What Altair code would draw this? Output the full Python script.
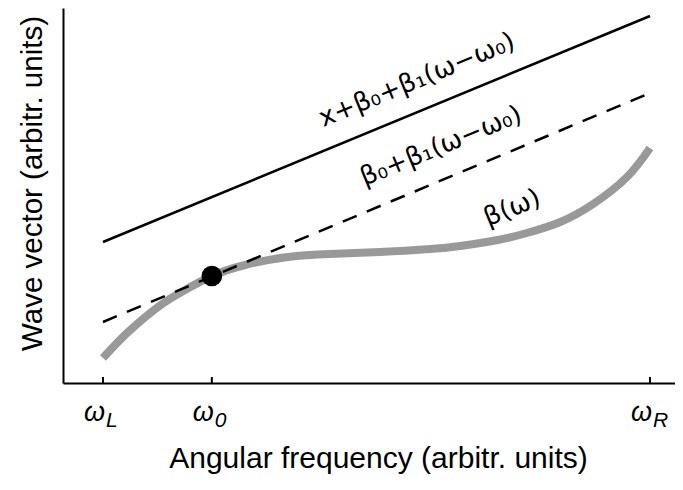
import altair as alt
import pandas as pd

# beta(omega) curve
omega_b = [0.0, 0.046, 0.108, 0.150, 0.199, 0.260, 0.338, 0.415, 0.506, 0.598,
           0.653, 0.722, 0.775, 0.836, 0.896, 0.958, 1.0]
beta_b = [0.25, 0.51, 0.79, 0.93, 1.07, 1.18, 1.26, 1.29, 1.31, 1.34,
          1.37, 1.43, 1.50, 1.61, 1.79, 2.06, 2.35]

# tangent line beta0 + beta1 (omega - omega0) and shifted line
omega_lines = [0.0, 1.0]
tangent = [0.61, 2.90]
shifted = [1.41, 3.67]

omega0 = 0.199
beta0 = 1.07

tick_vals = [0.0, 0.199, 1.0]
tick_subs = ["L", "0", "R"]

lbl_omega = [0.574, 0.618, 0.748]
lbl_y = [3.03, 2.37, 1.75]
lbl_text = ["x+β₀+β₁(ω−ω₀)", "β₀+β₁(ω−ω₀)", "β(ω)"]

W, H = 612, 375
xs = alt.Scale(domain=[-0.0731, 1.0457], nice=False, zero=False)
ys = alt.Scale(domain=[0, 3.75], nice=False, zero=False)

curve_df = pd.DataFrame({"w": omega_b, "b": beta_b})
lines_df = pd.DataFrame({"w": omega_lines, "t": tangent, "s": shifted})
dot_df = pd.DataFrame({"w": [omega0], "b": [beta0]})
ticks_df = pd.DataFrame({"w": tick_vals, "sub": tick_subs, "om": ["ω"] * 3})
lbl_df = pd.DataFrame({"w": lbl_omega, "y": lbl_y, "t": lbl_text})

xaxis = alt.Axis(ticks=False, labels=False, grid=False, domainColor="black",
                 domainWidth=2, title="Angular frequency (arbitr. units)",
                 titleFont="Liberation Sans", titleFontSize=30,
                 titleFontWeight="normal", titleColor="black",
                 titleX=315, titleY=84, titleBaseline="alphabetic",
                 titleAlign="center")
yaxis = alt.Axis(ticks=False, labels=False, grid=False, domainColor="black",
                 domainWidth=2, title="Wave vector (arbitr. units)",
                 titleFont="Liberation Sans", titleFontSize=29.5,
                 titleFontWeight="normal", titleColor="black",
                 titleAngle=270, titleX=-22, titleY=175,
                 titleBaseline="alphabetic", titleAlign="center")

curve = alt.Chart(curve_df).mark_line(
    color="#999999", strokeWidth=8, interpolate="natural", strokeCap="butt"
).encode(x=alt.X("w:Q", scale=xs, axis=xaxis), y=alt.Y("b:Q", scale=ys, axis=yaxis))

dashed = alt.Chart(lines_df).mark_line(
    color="black", strokeWidth=2.5, strokeDash=[15, 11]
).encode(x=alt.X("w:Q", scale=xs), y=alt.Y("t:Q", scale=ys))

solid = alt.Chart(lines_df).mark_line(color="black", strokeWidth=2.5).encode(
    x=alt.X("w:Q", scale=xs), y=alt.Y("s:Q", scale=ys))

dot = alt.Chart(dot_df).mark_circle(color="black", size=430, opacity=1).encode(
    x=alt.X("w:Q", scale=xs), y=alt.Y("b:Q", scale=ys))

tick_rules = alt.Chart(ticks_df).mark_rule(color="black", strokeWidth=2).encode(
    x=alt.X("w:Q", scale=xs), y=alt.value(H - 6), y2=alt.value(H))

tick_om = alt.Chart(ticks_df).mark_text(
    font="Liberation Sans", fontStyle="italic", fontSize=27, align="right",
    baseline="alphabetic", dx=2, color="black"
).encode(x=alt.X("w:Q", scale=xs), y=alt.value(413), text="om:N")

tick_sub = alt.Chart(ticks_df).mark_text(
    font="Liberation Sans", fontStyle="italic", fontSize=21, align="left",
    baseline="alphabetic", dx=3, color="black"
).encode(x=alt.X("w:Q", scale=xs), y=alt.value(419), text="sub:N")

labels = alt.Chart(lbl_df).mark_text(
    font="DejaVu Sans", fontSize=26, angle=337.7, align="center",
    baseline="middle", color="black"
).encode(x=alt.X("w:Q", scale=xs), y=alt.Y("y:Q", scale=ys), text="t:N")

chart = alt.layer(curve, dashed, solid, dot, tick_rules, tick_om, tick_sub, labels).properties(
    width=W, height=H,
    autosize=alt.AutoSizeParams(type="none"),
    padding={"left": 55, "top": 0, "right": 0, "bottom": 95},
    background="white",
).configure_view(stroke=None)

chart.save("out.html", embed_options={"renderer": "svg", "actions": False})
